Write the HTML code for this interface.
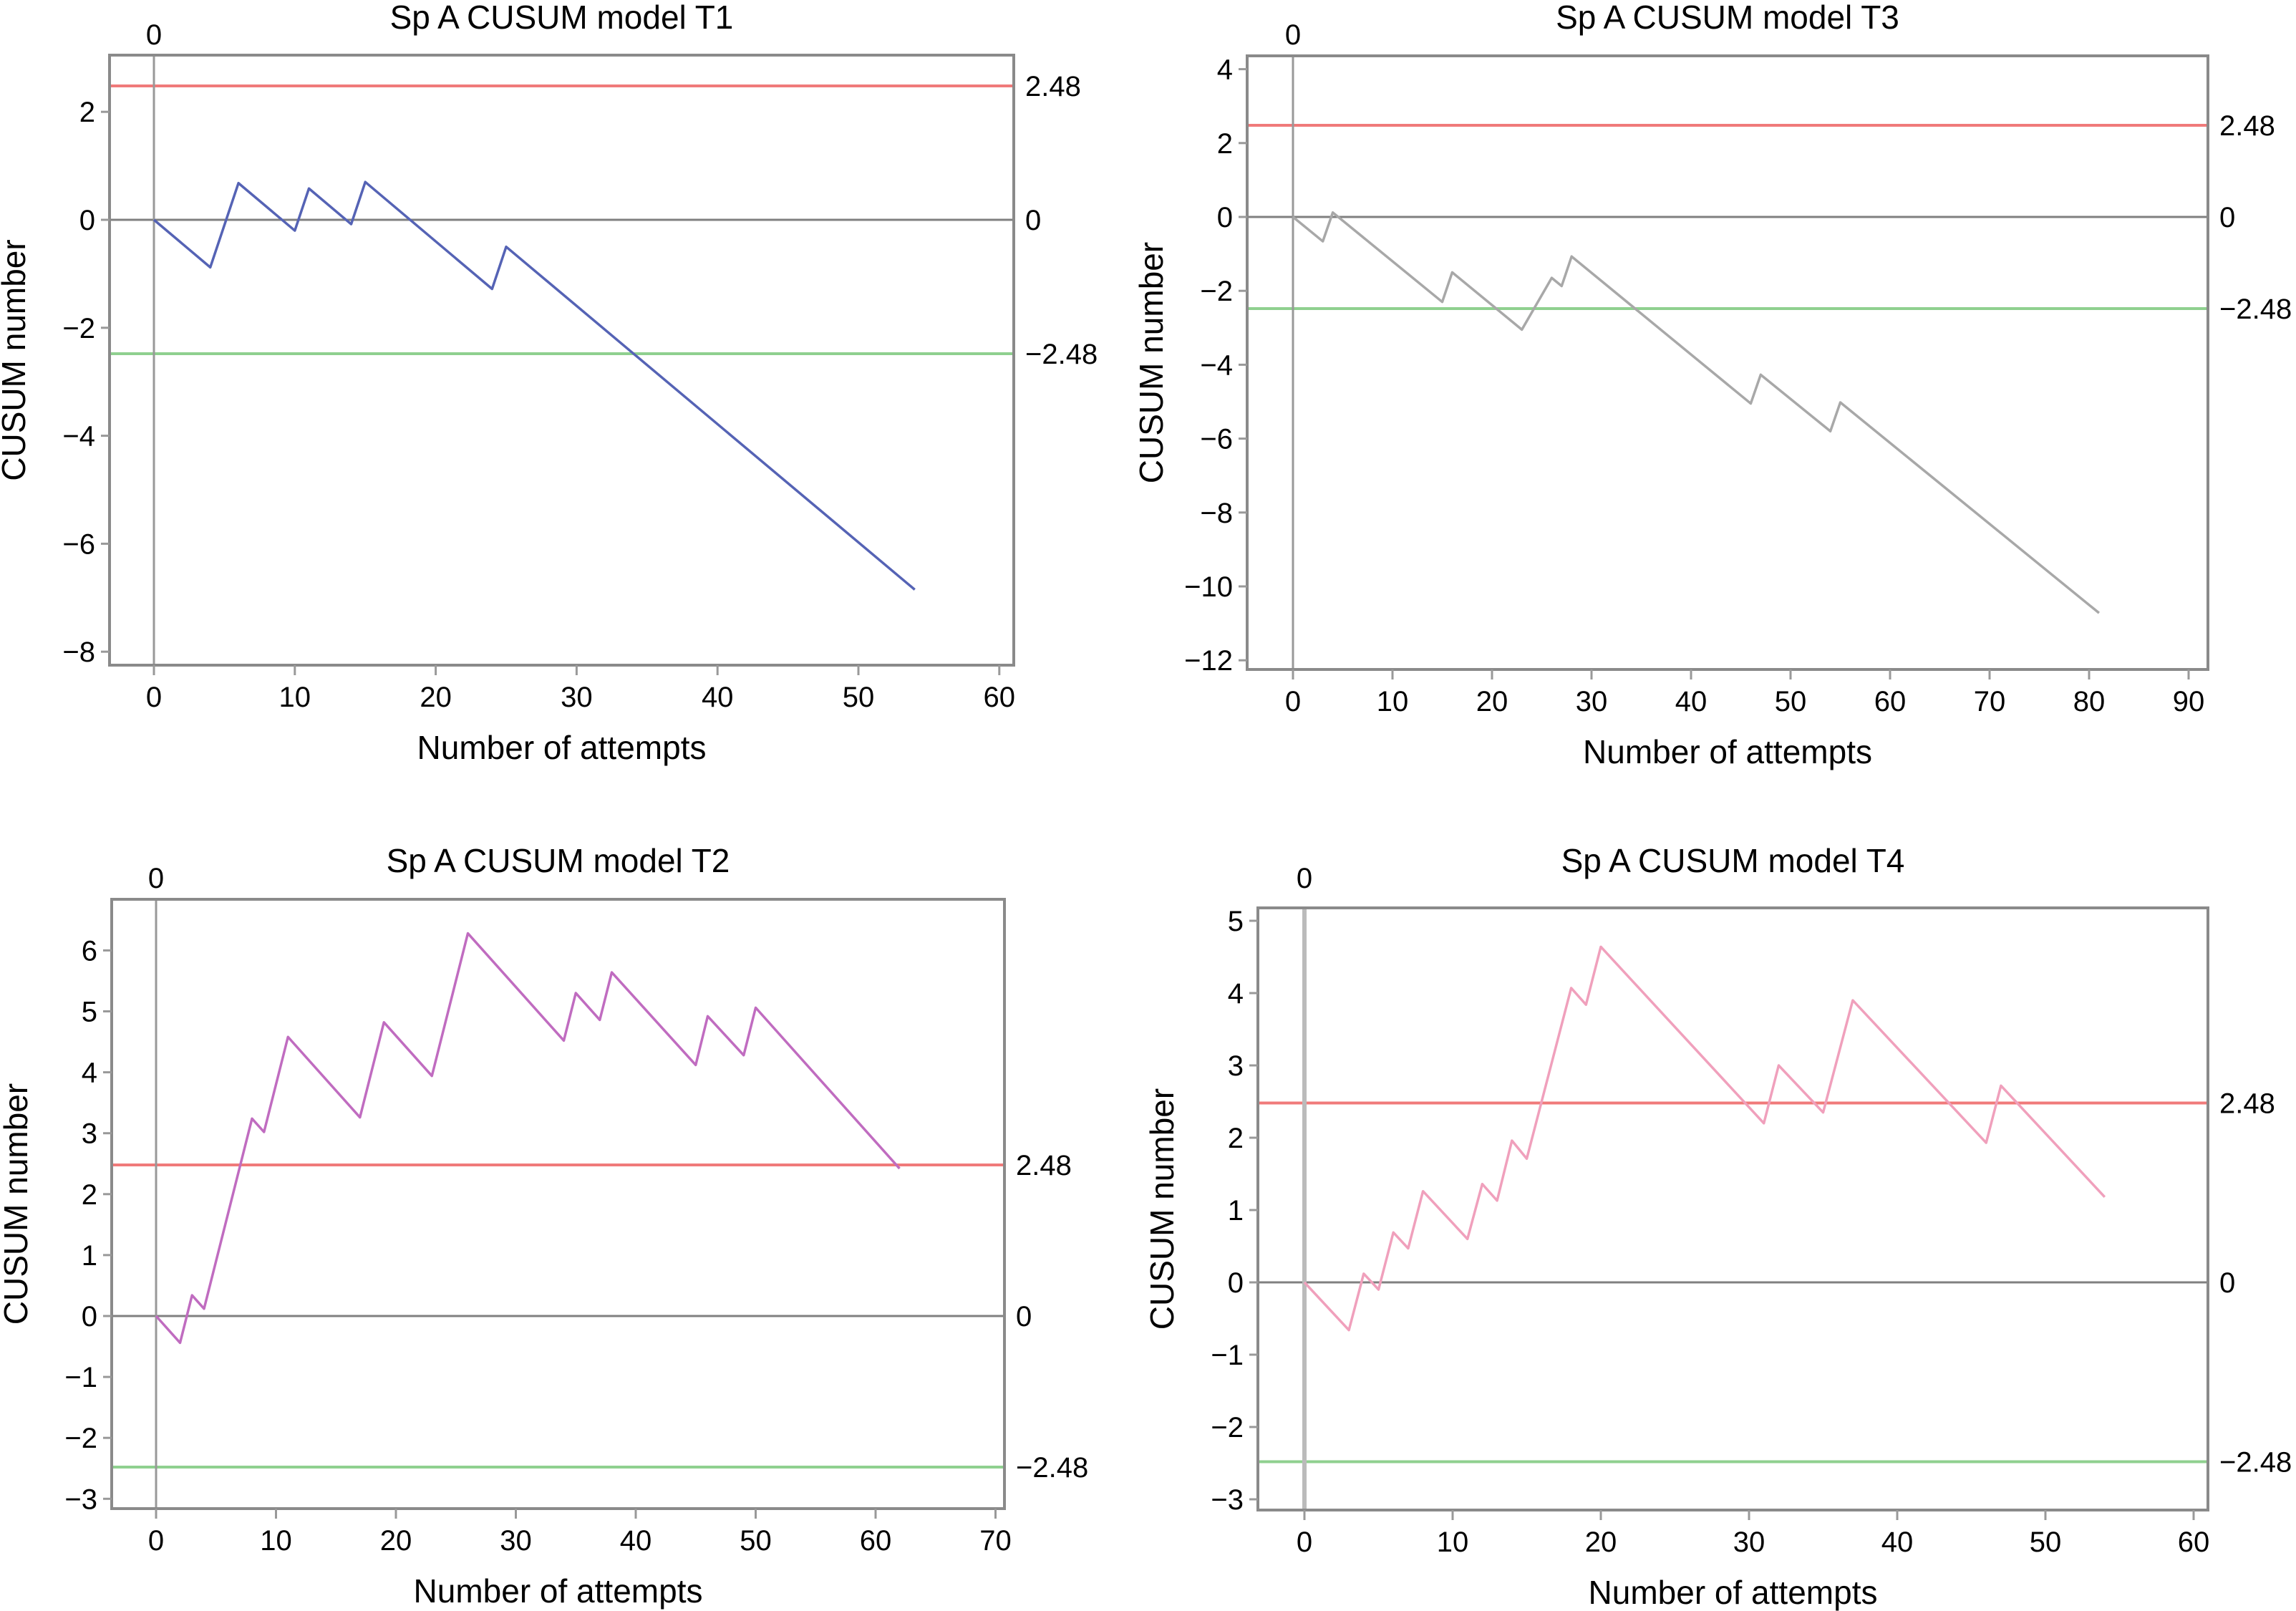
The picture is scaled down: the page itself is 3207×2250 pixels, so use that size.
<!DOCTYPE html>
<html><head><meta charset="utf-8"><style>
html,body{margin:0;padding:0;background:#fff;}
svg{display:block;font-family:"Liberation Sans",sans-serif;}
</style></head><body>
<svg id="chart" width="3207" height="2250" viewBox="0 0 3207 2250" xmlns="http://www.w3.org/2000/svg"></svg>
<script>
// T1 data
const t1X = [0,4,6,10,11,14,15,24,25,54];
const t1Y = [0,-0.88,0.68,-0.2,0.58,-0.08,0.7,-1.28,-0.5,-6.85];
const t1XTicks = [0,10,20,30,40,50,60];
const t1YTicks = [2,0,-2,-4,-6,-8];
// T3 data
const t3X = [0,3,4,15,16,23,26,27,28,46,47,54,55,81];
const t3Y = [0,-0.66,0.12,-2.3,-1.5,-3.05,-1.65,-1.87,-1.07,-5.05,-4.27,-5.8,-5.02,-10.72];
const t3XTicks = [0,10,20,30,40,50,60,70,80,90];
const t3YTicks = [4,2,0,-2,-4,-6,-8,-10,-12];
// T2 data
const t2X = [0,2,3,4,8,9,11,17,19,23,26,34,35,37,38,45,46,49,50,62];
const t2Y = [0,-0.44,0.34,0.12,3.24,3.02,4.58,3.26,4.82,3.94,6.28,4.52,5.3,4.86,5.64,4.12,4.92,4.28,5.06,2.42];
const t2XTicks = [0,10,20,30,40,50,60,70];
const t2YTicks = [6,5,4,3,2,1,0,-1,-2,-3];
// T4 data
const t4X = [0,3,4,5,6,7,8,11,12,13,14,15,18,19,20,31,32,35,37,46,47,54];
const t4Y = [0,-0.66,0.12,-0.1,0.69,0.47,1.26,0.6,1.36,1.13,1.96,1.71,4.07,3.84,4.64,2.2,3.0,2.35,3.9,1.93,2.72,1.18];
const t4XTicks = [0,10,20,30,40,50,60];
const t4YTicks = [5,4,3,2,1,0,-1,-2,-3];
const limitValues = [2.48, 0, -2.48];
const limitLabels = ["2.48","0","\u22122.48"];

const NS="http://www.w3.org/2000/svg";
const svg=document.getElementById('chart');
function mk(tag,attrs,parent,text){const e=document.createElementNS(NS,tag);for(const k in attrs)e.setAttribute(k,attrs[k]);if(text!==undefined)e.textContent=text;(parent||svg).appendChild(e);return e;}
function fmt(v){return v<0?'\u2212'+Math.abs(v):String(v);}

const panels=[
 {id:'t1',title:'Sp A CUSUM model T1',xs:t1X,ys:t1Y,xt:t1XTicks,yt:t1YTicks,color:'#5563b5',box:[153,77,1416,929],x0:215,sx:19.68,y0:307,sy:75.4,ty:40,zy:62},
 {id:'t3',title:'Sp A CUSUM model T3',xs:t3X,ys:t3Y,xt:t3XTicks,yt:t3YTicks,color:'#a8a8a8',box:[1742,78,3084,935],x0:1806,sx:13.9,y0:303,sy:51.6,ty:40,zy:62},
 {id:'t2',title:'Sp A CUSUM model T2',xs:t2X,ys:t2Y,xt:t2XTicks,yt:t2YTicks,color:'#c06cc0',box:[156,1256,1403,2107],x0:218,sx:16.75,y0:1838,sy:85.1,ty:1218,zy:1240},
 {id:'t4',title:'Sp A CUSUM model T4',xs:t4X,ys:t4Y,xt:t4XTicks,yt:t4YTicks,color:'#f0a0bc',box:[1757,1268,3084,2109],x0:1822,sx:20.7,y0:1791,sy:101,ty:1218,zy:1240}
];

panels.forEach(p=>{
 const g=mk('g',{});
 
 
 const [L,T,R,B]=p.box;
 const X=v=>p.x0+v*p.sx, Y=v=>p.y0-v*p.sy;
 const cx=(L+R)/2, cy=(T+B)/2;
 const title=mk('text',{x:cx,y:p.ty,'text-anchor':'middle','font-size':46,fill:'#000'},g,p.title);
 
 
 const zl=mk('text',{x:X(0),y:p.zy,'text-anchor':'middle','font-size':40,fill:'#000'},g,'0');
 
 
 const lc=['#f07a7a','#808080','#8fd08f'];
 limitValues.forEach((v,i)=>{
  const ln=mk('line',{x1:L,x2:R,y1:Y(v),y2:Y(v),stroke:lc[i],'stroke-width':i==1?3:4},g);
  
  
  const tl=mk('text',{x:R+16,y:Y(v)+14,'font-size':40,fill:'#000'},g,limitLabels[i]);
  
  
 });
 const vl=mk('line',{x1:X(0),x2:X(0),y1:T,y2:B,stroke:p.id==='t4'?'#bbb':'#999','stroke-width':p.id==='t4'?6:3},g);
 
 
 const pts=p.xs.map((x,i)=>X(x)+','+Y(p.ys[i])).join(' ');
 const s=mk('polyline',{points:pts,fill:'none',stroke:p.color,'stroke-width':3.5,'stroke-linejoin':'round'},g);
 
 
 const bx=mk('rect',{x:L,y:T,width:R-L,height:B-T,fill:'none',stroke:'#8a8a8a','stroke-width':4},g);
 
 
 p.xt.forEach(v=>{
  const t=mk('line',{x1:X(v),x2:X(v),y1:B,y2:B+14,stroke:'#999','stroke-width':3},g);
  
  
  const lb=mk('text',{x:X(v),y:B+58,'text-anchor':'middle','font-size':40,fill:'#000'},g,fmt(v));
  
  
 });
 p.yt.forEach(v=>{
  const t=mk('line',{x1:L-12,x2:L,y1:Y(v),y2:Y(v),stroke:'#999','stroke-width':3},g);
  
  
  const lb=mk('text',{x:L-20,y:Y(v)+14,'text-anchor':'end','font-size':40,fill:'#000'},g,fmt(v));
  
  
 });
 const xa=mk('text',{x:cx,y:B+131,'text-anchor':'middle','font-size':46,fill:'#000'},g,'Number of attempts');
 
 
 const yx=L-118;
 const ya=mk('text',{x:yx,y:cy,'text-anchor':'middle','font-size':46,fill:'#000',transform:'rotate(-90 '+yx+' '+cy+')'},g,'CUSUM number');
 
 
});
</script>
</body></html>
